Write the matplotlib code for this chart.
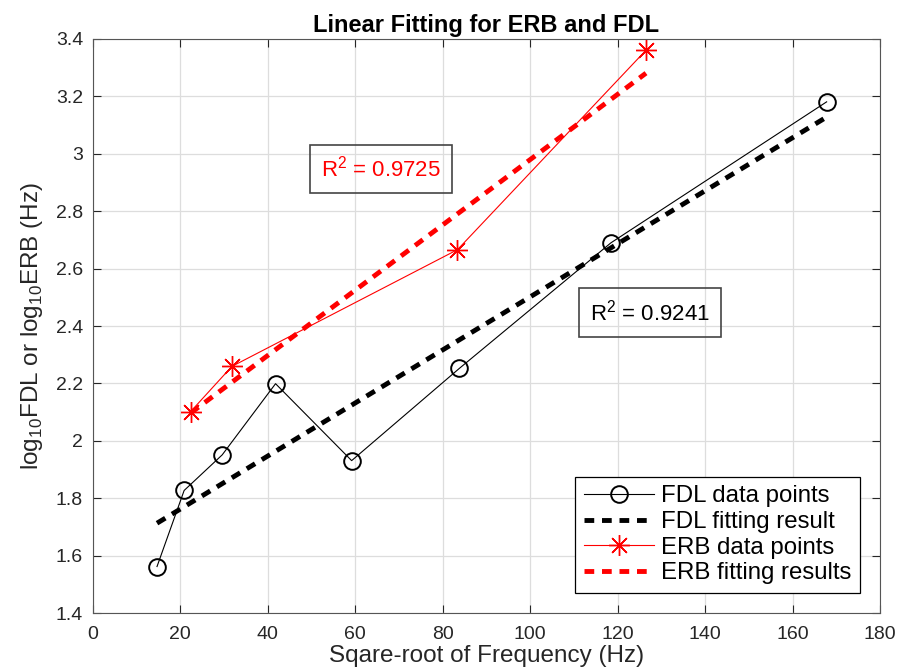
import numpy as np
from matplotlib import pyplot as plt

# ===================================================================
# Data
# ===================================================================
fdl_x = [14.7, 20.9, 29.6, 41.8, 59.2, 83.8, 118.5, 167.8]
fdl_y = [1.562, 1.827, 1.951, 2.199, 1.931, 2.252, 2.690, 3.181]
erb_x = [22.4, 31.8, 83.4, 126.5]
erb_y = [2.102, 2.259, 2.666, 3.361]
fdl_fit_x = [14.7, 167.8]
fdl_fit_y = [1.713, 3.128]
erb_fit_x = [22.4, 126.5]
erb_fit_y = [2.097, 3.281]

r2_erb = "0.9725"
r2_fdl = "0.9241"
x_ticks = list(range(0, 181, 20))
y_ticks = [1.4, 1.6, 1.8, 2.0, 2.2, 2.4, 2.6, 2.8, 3.0, 3.2, 3.4]
y_ticklabels = ["1.4", "1.6", "1.8", "2", "2.2", "2.4", "2.6", "2.8", "3", "3.2", "3.4"]

plt.rcParams["font.family"] = ["Liberation Sans", "DejaVu Sans"]
plt.rcParams["mathtext.fontset"] = "custom"
plt.rcParams["mathtext.rm"] = "Liberation Sans"

fig = plt.figure(figsize=(9.02, 6.71), dpi=100)
ax = fig.add_axes([0.1028, 0.0864, 0.8728, 0.8555])

ax.plot(fdl_x, fdl_y, color="black", linewidth=0.8, marker="o", markersize=12,
        markerfacecolor="none", markeredgewidth=1.4, label="FDL data points")
ax.plot(fdl_fit_x, fdl_fit_y, color="black", linewidth=3.5, linestyle=(0, (2.0, 1.6)),
        label="FDL fitting result")
ax.plot(erb_x, erb_y, color="red", linewidth=0.8, marker=(8, 2, 0), markersize=15,
        markeredgewidth=1.0, label="ERB data points")
ax.plot(erb_fit_x, erb_fit_y, color="red", linewidth=3.5, linestyle=(0, (2.0, 1.6)),
        label="ERB fitting results")

box_style = dict(boxstyle="square,pad=0.5", facecolor="none", edgecolor="#444444", linewidth=1.2)
ax.text(65.9, 2.947, "R$^{2}$ = " + r2_erb, color="red", fontsize=16,
        ha="center", va="center", bbox=box_style)
ax.text(127.4, 2.447, "R$^{2}$ = " + r2_fdl, color="black", fontsize=16,
        ha="center", va="center", bbox=box_style)

ax.set_xlim(0, 180)
ax.set_ylim(1.4, 3.4)
ax.set_xticks(x_ticks)
ax.set_yticks(y_ticks)
ax.set_yticklabels(y_ticklabels)
ax.grid(True, color="#dddddd", linewidth=0.9)
ax.set_axisbelow(True)
ax.tick_params(direction="in", length=6, width=0.8, top=True, right=True,
               labelsize=14, colors="#262626")
ax.tick_params(axis="x", pad=9)
ax.tick_params(axis="y", pad=7)
for s in ax.spines.values():
    s.set_color("#555555")
    s.set_linewidth(0.8)

ax.set_xlabel("Sqare-root of Frequency (Hz)", fontsize=17.5, color="#262626", labelpad=2)
ax.set_ylabel(r"log$_{10}$FDL or log$_{10}$ERB (Hz)", fontsize=17.5, color="#262626", labelpad=8)
ax.set_title("Linear Fitting for ERB and FDL", fontsize=17, fontweight="bold", pad=5)

leg = ax.legend(loc="lower right", fontsize=17.3, handlelength=2.9, labelspacing=0.15,
                borderaxespad=0.85, fancybox=False, framealpha=1.0, borderpad=0.35,
                handletextpad=0.3)
leg.get_frame().set_edgecolor("black")
leg.get_frame().set_linewidth(0.9)

fig.savefig("out.png", dpi=100)
